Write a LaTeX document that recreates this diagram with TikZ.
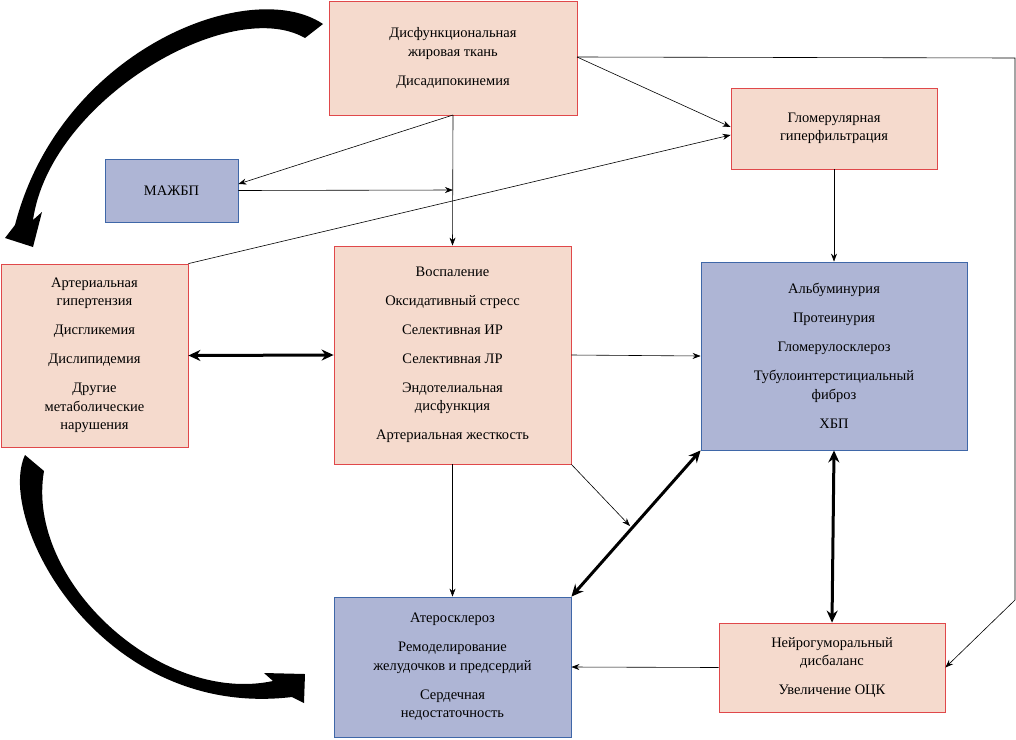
\documentclass[tikz,border=0pt]{standalone}
\usepackage{fontspec}
\setmainfont{Liberation Serif}
\usetikzlibrary{arrows.meta}
\definecolor{pk}{HTML}{F5DACD}
\definecolor{pkb}{HTML}{E0484A}
\definecolor{bl}{HTML}{AEB5D5}
\definecolor{blb}{HTML}{3F67A8}
\tikzset{
 box/.style={draw, line width=0.8pt, align=center, inner sep=0pt, font=\fontsize{14.5}{18.5}\selectfont},
 pbox/.style={box, fill=pk, draw=pkb},
 bbox/.style={box, fill=bl, draw=blb},
 thin/.style={-{Stealth[length=8pt,width=6pt]}, line width=0.6pt},
 thick2/.style={{Stealth[length=12pt,width=11pt]}-{Stealth[length=12pt,width=11pt]}, line width=3pt}
}
\newcommand{\gp}{\\[10.5pt]}
\begin{document}
\begin{tikzpicture}[x=1pt,y=-1pt]
\useasboundingbox (0,0) rectangle (1016,739);
\node[pbox, minimum width=248pt, minimum height=114pt] (top) at (453,58) {Дисфункциональная\\жировая ткань\gp Дисадипокинемия};
\node[pbox, minimum width=206pt, minimum height=81pt] (glo) at (834,128.5) {Гломерулярная\\гиперфильтрация};
\node[bbox, minimum width=133pt, minimum height=63pt] (maz) at (171.5,190.5) {МАЖБП};
\node[pbox, minimum width=187pt, minimum height=183pt] (art) at (94.5,355.5) {Артериальная\\гипертензия\gp Дисгликемия\gp Дислипидемия\gp Другие\\метаболические\\нарушения};
\node[pbox, minimum width=237pt, minimum height=218pt] (cen) at (452.5,355) {Воспаление\gp Оксидативный стресс\gp Селективная ИР\gp Селективная ЛР\gp Эндотелиальная\\дисфункция\gp Артериальная жесткость};
\node[bbox, minimum width=266pt, minimum height=188pt] (alb) at (834,356) {Альбуминурия\gp Протеинурия\gp Гломерулосклероз\gp Тубулоинтерстициальный\\фиброз\gp ХБП};
\node[bbox, minimum width=237pt, minimum height=140pt] (ath) at (452.5,667) {Атеросклероз\gp Ремоделирование\\желудочков и предсердий\gp Сердечная\\недостаточность};
\node[pbox, minimum width=226pt, minimum height=89pt] (neu) at (832,667.5) {Нейрогуморальный\\дисбаланс\gp Увеличение ОЦК};
% connectors
\coordinate (tb) at (453,115);
\coordinate (j) at (453,190);
\coordinate (tr) at (577,57);
\coordinate (c1) at (1015,58);
\coordinate (c2) at (1015,600);
\coordinate (fr) at (630,526);
\draw[thin] (tb) -- (cen.north);
\draw[thin] (tb) -- (maz.east |- 0,184);
\draw[thin] (maz.east) -- (j);
\draw[thin] (tr) -- (glo.west |- 0,127);
\draw[thin] (tr) -- (c1) -- (c2) -- (neu.east);
\draw[thin] (art.north east) -- (glo.west |- 0,135);
\draw[thin] (glo.south) -- (alb.north);
\draw[thick2] (art.east) -- (cen.west);
\draw[thin] (cen.east) -- (alb.west);
\draw[thin] (cen.south east) -- (fr);
\draw[thick2] (alb.south west) -- (ath.north east);
\draw[thick2] (alb.south) -- (neu.north);
\draw[thin] (cen.south) -- (ath.north);
\draw[thin] (neu.west) -- (ath.east);
% swooshes
\fill (323,24) .. controls (250,-25) and (60,50) .. (15,225) -- (5,238) -- (33,247) -- (42,212) -- (33,220) .. controls (50,100) and (230,-5) .. (305,38) -- cycle;
\fill (25,455) .. controls (-5,520) and (100,720) .. (292,697) -- (304,703) -- (305,674) -- (264,673) -- (273,681) .. controls (160,705) and (25,580) .. (44,471) -- cycle;
\end{tikzpicture}
\end{document}
